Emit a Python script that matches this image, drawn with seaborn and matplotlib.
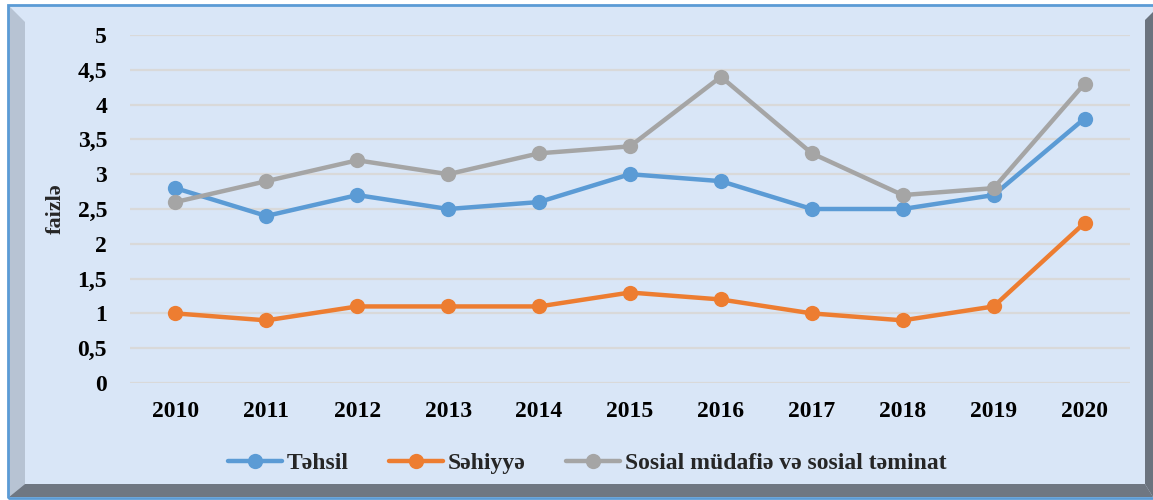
import numpy as np
import pandas as pd
import matplotlib
matplotlib.use("Agg")
import matplotlib.pyplot as plt
from matplotlib.patches import Polygon, Rectangle
from matplotlib.font_manager import FontProperties
import seaborn as sns

years = [2010, 2011, 2012, 2013, 2014, 2015, 2016, 2017, 2018, 2019, 2020]
tehsil = [2.8, 2.4, 2.7, 2.5, 2.6, 3.0, 2.9, 2.5, 2.5, 2.7, 3.8]
sehiyye = [1.0, 0.9, 1.1, 1.1, 1.1, 1.3, 1.2, 1.0, 0.9, 1.1, 2.3]
sosial = [2.6, 2.9, 3.2, 3.0, 3.3, 3.4, 4.4, 3.3, 2.7, 2.8, 4.3]
series_names = ["Təhsil", "Səhiyyə", "Sosial müdafiə və sosial təminat"]
colors = ["#5B9BD5", "#ED7D31", "#A5A5A5"]
y_ticks = [0, 0.5, 1, 1.5, 2, 2.5, 3, 3.5, 4, 4.5, 5]
y_tick_labels = ["0", "0,5", "1", "1,5", "2", "2,5", "3", "3,5", "4", "4,5", "5"]
y_label = "faizlə"

df = pd.DataFrame({
    "year": years * 3,
    "value": tehsil + sehiyye + sosial,
    "series": [series_names[0]] * len(years) + [series_names[1]] * len(years) + [series_names[2]] * len(years),
})

sns.set_theme(style="white")
families = ["Liberation Serif", "DejaVu Serif"]
plt.rcParams["font.family"] = families
plt.rcParams["font.weight"] = "bold"

W, H = 1153, 500
fig = plt.figure(figsize=(W / 100, H / 100), dpi=100)
fig.patch.set_facecolor("white")

def px(x, y):
    return (x / W, 1 - y / H)

# panel background
bg = "#D9E6F7"
fig.patches.append(Rectangle(px(8, 497), (1153 - 8) / W, (497 - 5) / H, transform=fig.transFigure,
                             facecolor=bg, edgecolor="none", zorder=-3))
# left bevel (light)
fig.patches.append(Polygon([px(9, 6), px(25, 22), px(25, 484), px(9, 497)], closed=True,
                           transform=fig.transFigure, facecolor="#B7C3D3", edgecolor="none", zorder=-2))
# bottom bevel (dark)
fig.patches.append(Polygon([px(9, 497), px(25, 484), px(1145, 484), px(1153, 497)], closed=True,
                           transform=fig.transFigure, facecolor="#6F7782", edgecolor="none", zorder=-2))
# right bevel (dark)
fig.patches.append(Polygon([px(1145, 20), px(1153, 12), px(1153, 497), px(1145, 484)], closed=True,
                           transform=fig.transFigure, facecolor="#6B737E", edgecolor="none", zorder=-2))
# outer blue border
fig.patches.append(Rectangle(px(8, 498), (1160 - 8) / W, (498 - 5) / H, transform=fig.transFigure,
                             facecolor="none", edgecolor="#5B9BD5", linewidth=2, zorder=-1))

ax = fig.add_axes([130 / W, 1 - 383 / H, (1130 - 130) / W, (383 - 35) / H])
ax.set_zorder(5)
ax.set_facecolor("none")

sns.lineplot(data=df, x="year", y="value", hue="series", hue_order=series_names,
             palette=colors, marker="o", markersize=11, markeredgewidth=0,
             linewidth=3.2, ax=ax, legend=True, zorder=3)

ax.set_xlim(2009.5, 2020.5)
ax.set_ylim(0, 5)
ax.set_xticks(years)
ax.set_xticklabels([str(y) for y in years], fontsize=17, fontweight="bold", family=families)
ax.set_yticks(y_ticks)
ax.set_yticklabels(y_tick_labels, fontsize=17, fontweight="bold", family=families)
ax.tick_params(axis="both", length=0, colors="black")
ax.tick_params(axis="x", pad=13)
ax.tick_params(axis="y", pad=16.5)
ax.grid(axis="y", color="#D9D9D9", linewidth=1.6, zorder=0)
ax.set_axisbelow(True)
for s in ax.spines.values():
    s.set_visible(False)
ax.set_xlabel("")
ax.set_ylabel("")
fig.text(56 / W, 1 - 209 / H, y_label, rotation=90, ha="center", va="center",
         fontsize=16, fontweight="bold", family=families, zorder=6)

handles, labels = ax.get_legend_handles_labels()
ax.legend_.remove()
leg = fig.legend(handles, labels, loc="center", bbox_to_anchor=(587 / W, 1 - 463 / H), ncol=3,
                 frameon=False, handlelength=2.3, handletextpad=0.2, columnspacing=1.7,
                 prop=FontProperties(family=families, weight="bold", size=17))
leg.set_zorder(6)

fig.savefig("out.png", dpi=100)
